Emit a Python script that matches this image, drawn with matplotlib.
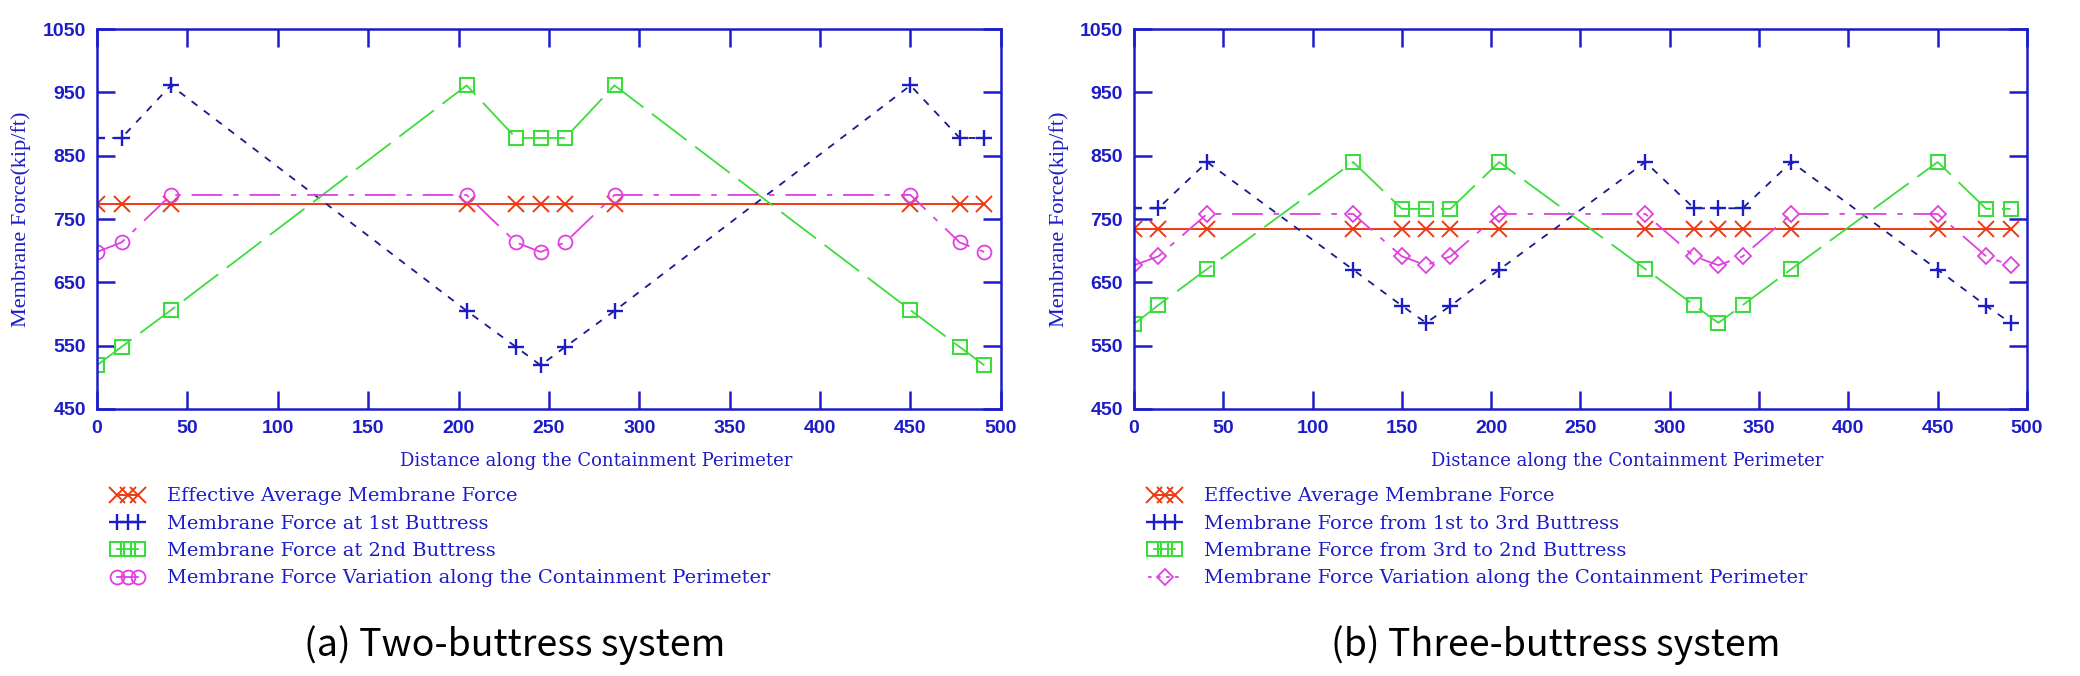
import numpy as np
import matplotlib
matplotlib.use("Agg")
import matplotlib.pyplot as plt
from matplotlib.legend_handler import HandlerLine2D

# (a) two-buttress system
xa = [0, 13.6, 40.9, 204.5, 231.8, 245.4, 259.0, 286.3, 450.0, 477.2, 490.8]
avg_a = [773] * len(xa)
b1_a = [878, 878, 961, 605, 548, 519, 548, 605, 961, 878, 878]
b2_a = [519, 548, 606, 961, 878, 878, 878, 961, 606, 548, 519]
var_a = [698, 713, 788, 788, 713, 698, 713, 788, 788, 713, 698]
labels_a = ["Effective Average Membrane Force",
            "Membrane Force at 1st Buttress",
            "Membrane Force at 2nd Buttress",
            "Membrane Force Variation along the Containment Perimeter"]

# (b) three-buttress system
xb = [0, 13.6, 40.9, 122.7, 150.0, 163.6, 177.2, 204.5, 286.3, 313.6,
      327.2, 340.8, 368.1, 450.0, 477.2, 490.8]
avg_b = [734] * len(xb)
b13_b = [767, 767, 840, 670, 613, 586, 613, 670, 840, 767, 767, 767, 840, 670, 613, 586]
b32_b = [584, 614, 671, 840, 766, 766, 766, 840, 671, 614, 586, 614, 671, 840, 766, 766]
var_b = [677, 691, 758, 758, 691, 677, 691, 758, 758, 691, 677, 691, 758, 758, 691, 677]
labels_b = ["Effective Average Membrane Force",
            "Membrane Force from 1st to 3rd Buttress",
            "Membrane Force from 3rd to 2nd Buttress",
            "Membrane Force Variation along the Containment Perimeter"]

BLUE = "#1c1cc8"
NAVY = "#1a1a90"
RED = "#ee3a14"
GREEN = "#3ddc3d"
MAG = "#e040e0"

fig = plt.figure(figsize=(20.8, 6.76), dpi=100)
ax1 = fig.add_axes([0.0466, 0.395, 0.4346, 0.562])
ax2 = fig.add_axes([0.5452, 0.395, 0.4293, 0.562])


def style(ax):
    ax.set_xlim(0, 500)
    ax.set_ylim(450, 1050)
    ax.set_xticks(np.arange(0, 501, 50))
    ax.set_yticks(np.arange(450, 1051, 100))
    ax.tick_params(direction="in", length=13, width=1.8, colors=BLUE,
                   top=True, right=True, labelsize=14, pad=8)
    for s in ax.spines.values():
        s.set_color(BLUE)
        s.set_linewidth(1.8)
    for t in ax.get_xticklabels() + ax.get_yticklabels():
        t.set_fontfamily("Liberation Sans")
        t.set_fontweight("bold")
    ax.set_ylabel("Membrane Force(kip/ft)", family="Liberation Serif",
                  fontsize=16, color=BLUE, labelpad=8)
    ax.set_xlabel("Distance along the Containment Perimeter",
                  family="DejaVu Serif", fontsize=13, color=BLUE)
    ax.xaxis.set_label_coords(0.552, -0.112)


def draw(ax, x, avg, s1, s2, var, labels, var_marker, leg_x, var_single):
    l1, = ax.plot(x, avg, color=RED, lw=1.4, marker="x", ms=11, mew=1.4,
                  label=labels[0])
    l2, = ax.plot(x, s1, color=NAVY, lw=1.3, ls=(0, (4, 4.5)), marker="+",
                  ms=11.5, mew=1.7, mec=BLUE, label=labels[1])
    l3, = ax.plot(x, s2, color=GREEN, lw=1.3, ls=(0, (24, 6)), marker="s",
                  ms=9.5, mfc="none", mew=1.5, label=labels[2])
    l4, = ax.plot(x, var, color=MAG, lw=1.3, ls=(0, (17, 6, 3, 6)),
                  marker=var_marker, ms=8 if var_marker == "D" else 10,
                  mfc="none", mew=1.3, label=labels[3])
    hm = {l4: HandlerLine2D(numpoints=1)} if var_single else {}
    leg = fig.legend(handles=[l1, l2, l3, l4], loc="upper left",
                     bbox_to_anchor=(leg_x, 0.305), frameon=False,
                     numpoints=3, handlelength=1.7, handletextpad=1.2,
                     labelspacing=0.48, labelcolor=BLUE,
                     prop={"family": "DejaVu Serif", "size": 14},
                     handler_map=hm)
    for h in leg.legend_handles:
        h.set_linestyle("-")
    if var_single:
        leg.legend_handles[3].set_linestyle((0, (2, 3)))


style(ax1)
style(ax2)
draw(ax1, xa, avg_a, b1_a, b2_a, var_a, labels_a, "o", 0.045, False)
draw(ax2, xb, avg_b, b13_b, b32_b, var_b, labels_b, "D", 0.5435, True)

fig.text(0.2476, 0.046, "(a) Two-buttress system", family="Noto Sans CJK KR",
         fontweight="light", fontsize=27, ha="center", va="center")
fig.text(0.748, 0.046, "(b) Three-buttress system", family="Noto Sans CJK KR",
         fontweight="light", fontsize=27, ha="center", va="center")

fig.savefig("out.png", dpi=100)
